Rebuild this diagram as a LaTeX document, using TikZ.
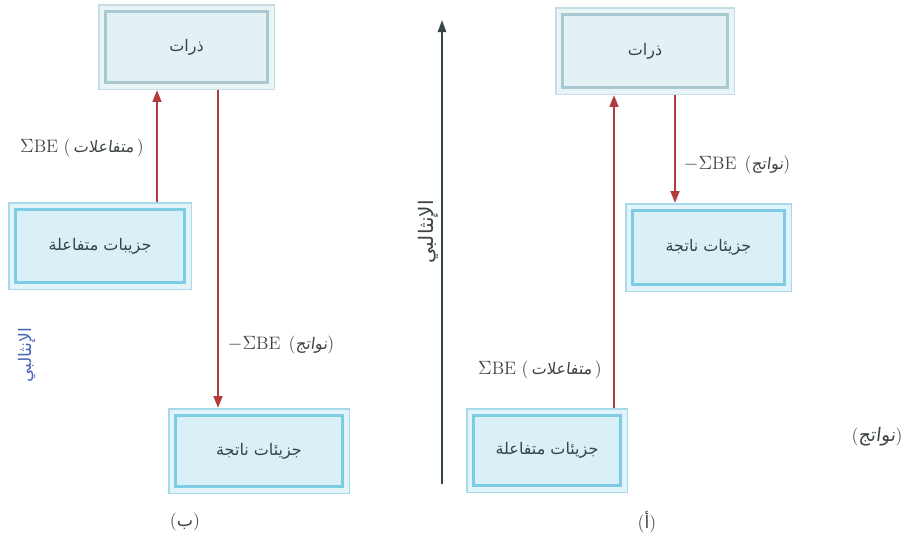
\documentclass[tikz,border=0pt]{standalone}
\usepackage{fontspec}
\usetikzlibrary{arrows.meta}
\TeXXeTstate=1
\newfontfamily\ar[Script=Arabic]{DejaVu Sans}
\newfontfamily\arsl[Script=Arabic,FakeSlant=0.12]{DejaVu Sans}
\definecolor{atomline}{HTML}{A9C8D0}
\definecolor{atomfill}{HTML}{E4F1F4}
\definecolor{atomband}{HTML}{E9F4F6}
\definecolor{atomedge}{HTML}{C6DDE3}
\definecolor{molline}{HTML}{7DCBE4}
\definecolor{molfill}{HTML}{D9F0F7}
\definecolor{molband}{HTML}{E2F4F9}
\definecolor{moledge}{HTML}{A6D9EA}
\definecolor{boxtext}{HTML}{34444A}
\definecolor{labtext}{HTML}{3E4446}
\definecolor{arrred}{HTML}{B23C3C}
\definecolor{axiscol}{HTML}{34464A}
\definecolor{bluetxt}{HTML}{4A68B8}
\tikzset{
  basebox/.style={rectangle, line width=2.6pt, outer sep=5.6pt, inner sep=0pt,
    text=boxtext, font=\ar\fontsize{12}{14}\selectfont},
  atombox/.style={basebox, draw=atomline, fill=atomfill,
    preaction={draw=atomedge, line width=11.2pt},
    preaction={draw=atomband, line width=9pt}},
  molbox/.style={basebox, draw=molline, fill=molfill,
    preaction={draw=moledge, line width=11.2pt},
    preaction={draw=molband, line width=9pt}},
  redarr/.style={draw=arrred, line width=1.9pt, -{Triangle[length=9pt,width=6.5pt]}},
  axisarr/.style={draw=axiscol, line width=1.5pt, -{Triangle[length=9pt,width=6pt]}},
  lab/.style={text=labtext, inner sep=1pt, font=\fontsize{13.5}{16}\selectfont},
}
\begin{document}
\begin{tikzpicture}[x=0.75pt,y=-0.75pt]
\path[use as bounding box, fill=white] (0,0) rectangle (911,547);

% boxes
\node[atombox, minimum width=165*0.75pt, minimum height=73*0.75pt] (atomsR) at (645,51) {\beginR ذرات\endR};
\node[atombox, minimum width=162*0.75pt, minimum height=71*0.75pt] (atomsL) at (186.5,47) {\beginR ذرات\endR};
\node[molbox, minimum width=152*0.75pt, minimum height=74*0.75pt] (prodR) at (708.5,247.5) {\beginR جزيئات ناتجة\endR};
\node[molbox, minimum width=147*0.75pt, minimum height=70*0.75pt] (reactR) at (547,450.5) {\beginR جزيئات متفاعلة\endR};
\node[molbox, minimum width=169*0.75pt, minimum height=73*0.75pt] (reactL) at (100,246) {\beginR جزيبات متفاعلة\endR};
\node[molbox, minimum width=167*0.75pt, minimum height=71*0.75pt] (prodL) at (259,451) {\beginR جزيئات ناتجة\endR};

% arrow x positions
\coordinate (xRu) at (614,0);
\coordinate (xRd) at (675,0);
\coordinate (xLu) at (157,0);
\coordinate (xLd) at (218,0);

\draw[redarr] (reactR.north -| xRu) -- (atomsR.south -| xRu);
\draw[redarr] (atomsR.south -| xRd) -- (prodR.north -| xRd);
\draw[redarr] (reactL.north -| xLu) -- (atomsL.south -| xLu);
\draw[redarr] (atomsL.south -| xLd) -- (prodL.north -| xLd);

% enthalpy axis
\coordinate (axb) at (442,484);
\coordinate (axt) at (442,20);
\draw[axisarr] (axb) -- (axt);
\node[rotate=90, text=labtext, font=\ar\fontsize{15}{17}\selectfont] (axlab) at (428,232) {الإنثالبي};
\node[rotate=90, text=bluetxt, font=\ar\fontsize{13}{15}\selectfont] (axlabL) at (27,355) {الإنثالبي};

% labels
\node[lab] (lR1) at (737,165) {$-\Sigma\mathrm{BE}$\hspace{6pt}({\arsl\fontsize{12}{14}\selectfont نواتج})};
\node[lab] (lL1) at (281,345) {$-\Sigma\mathrm{BE}$\hspace{6pt}({\arsl\fontsize{12}{14}\selectfont نواتج})};
\node[lab] (lR2) at (540,370) {$\Sigma\mathrm{BE}$\hspace{4pt}(\,{\arsl\fontsize{12}{14}\selectfont متفاعلات}\,)};
\node[lab] (lL2) at (82,148) {$\Sigma\mathrm{BE}$\hspace{4pt}(\,{\arsl\fontsize{12}{14}\selectfont متفاعلات}\,)};
\node[lab] (lEdge) at (877,437) {({\arsl\fontsize{14}{16}\selectfont نواتج})};

\node[lab] (capB) at (185,522) {({\ar\fontsize{13}{15}\selectfont ب})};
\node[lab] (capA) at (647,522) {({\ar\fontsize{13}{15}\selectfont أ})};
\end{tikzpicture}
\end{document}
